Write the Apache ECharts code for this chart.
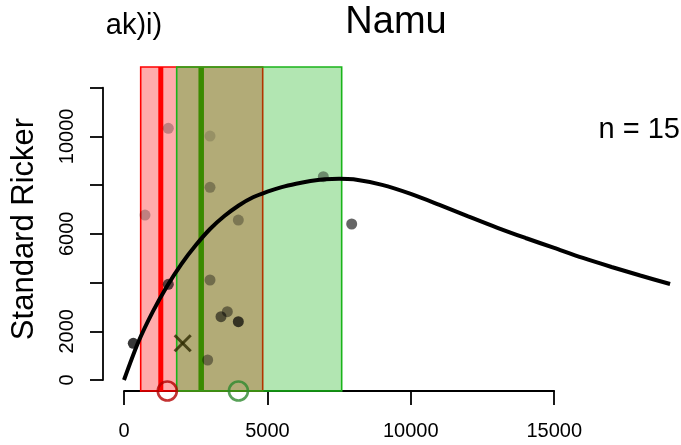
<!DOCTYPE html>
<html>
<head>
<meta charset="utf-8">
<script src="https://cdn.jsdelivr.net/npm/echarts@6/dist/echarts.min.js"></script>
<style>
  html, body { margin: 0; padding: 0; background: #ffffff; }
  #chart { width: 681px; height: 445px; }
</style>
</head>
<body>
<div id="chart"></div>
<script>
// ---- data ----------------------------------------------------------------
// observed stock (x) and recruitment (y)
const obsX = [324, 732, 1545, 1545, 2999, 2999, 3986, 2999, 3603, 3382, 3986, 2917, 6950, 7939];
const obsY = [1507, 6773, 10333, 3928, 10016, 7910, 6568, 4105, 2805, 2600, 2395, 821, 8346, 6404];

// fitted standard Ricker curve
const curveX = [0, 500, 1000, 1500, 2000, 2500, 3000, 3500, 4000, 4500, 5000, 5500, 6000, 6500, 7000,
                7500, 8000, 9000, 10000, 11000, 12000, 13000, 14000, 15000, 16000, 17000, 18000, 19040];
const curveY = [0, 1560, 2800, 3850, 4760, 5530, 6200, 6730, 7165, 7500, 7730, 7920, 8060, 8170, 8240,
                8265, 8240, 8010, 7640, 7190, 6720, 6260, 5830, 5420, 5010, 4640, 4290, 3940];

// reference bands and their central values
const redBand = [582, 4836];
const greenBand = [1837, 7590];
const redLine = 1283;
const greenLine = 2692;
const redCircleX = 1510;
const greenCircleX = 3990;
const crossPoint = [2047, 1507];

// axis ticks
const xTickValues = [0, 5000, 10000, 15000];
const xTickLabels = ['0', '5000', '10000', '15000'];
const yTickValues = [0, 2000, 4000, 6000, 8000, 10000, 12000];
const yTickLabels = ['0', '2000', '', '6000', '', '10000', ''];

const sampleSize = 15;

// ---- styling / layout ----------------------------------------------------
const pointAlpha = [0.78, 0.25, 0.25, 0.65, 0.15, 0.3, 0.3, 0.37, 0.43, 0.55, 0.7, 0.4, 0.4, 0.6];
const FONT = '"Liberation Sans", Arial, Helvetica, sans-serif';

// plot frame in pixels and the data-to-pixel scale of each axis
const frame = { left: 103, right: 676, top: 67, bottom: 391 };
const x0px = 124, pxPerX = 143.4 / 5000;
const y0px = 380, pxPerY = 292.3 / 12000;
const xMin = -(x0px - frame.left) / pxPerX;
const xMax = (frame.right - x0px) / pxPerX;
const yMin = -(frame.bottom - y0px) / pxPerY;
const yMax = (y0px - frame.top) / pxPerY;

const xAxisLen = (xTickValues[xTickValues.length - 1] - xTickValues[0]) * pxPerX;
const yAxisLen = (yTickValues[yTickValues.length - 1] - yTickValues[0]) * pxPerY;

function bandItem(fill, stroke) {
  return function (params, api) {
    const cs = params.coordSys;
    const a = api.coord([api.value(0), 0])[0];
    const b = api.coord([api.value(1), 0])[0];
    return {
      type: 'rect',
      shape: { x: a, y: cs.y, width: b - a, height: cs.height },
      style: { fill: fill, stroke: stroke, lineWidth: 1.6 }
    };
  };
}

function vLineItem(color, width) {
  return function (params, api) {
    const cs = params.coordSys;
    const x = api.coord([api.value(0), 0])[0];
    return {
      type: 'line',
      shape: { x1: x, y1: cs.y, x2: x, y2: cs.y + cs.height },
      style: { stroke: color, lineWidth: width }
    };
  };
}

function crossItem(params, api) {
  const p = api.coord([api.value(0), api.value(1)]);
  const r = 8;
  const style = { stroke: 'rgba(45,42,0,0.8)', lineWidth: 3 };
  return {
    type: 'group',
    children: [
      { type: 'line', shape: { x1: p[0] - r, y1: p[1] - r, x2: p[0] + r, y2: p[1] + r }, style: style },
      { type: 'line', shape: { x1: p[0] - r, y1: p[1] + r, x2: p[0] + r, y2: p[1] - r }, style: style }
    ]
  };
}

const chart = echarts.init(document.getElementById('chart'), null, { renderer: 'canvas' });

const option = {
  backgroundColor: '#ffffff',
  animation: false,
  textStyle: { fontFamily: FONT },
  grid: [
    { left: frame.left, top: frame.top, width: frame.right - frame.left, height: frame.bottom - frame.top,
      containLabel: false, outerBoundsMode: 'none' },
    { left: x0px, top: frame.bottom - 1, width: xAxisLen, height: 1, containLabel: false, outerBoundsMode: 'none' },
    { left: frame.left, top: y0px - yAxisLen, width: 1, height: yAxisLen, containLabel: false, outerBoundsMode: 'none' }
  ],
  xAxis: [
    { type: 'value', gridIndex: 0, min: xMin, max: xMax, show: false },
    {
      type: 'value', gridIndex: 1, min: xTickValues[0], max: xTickValues[xTickValues.length - 1],
      interval: xTickValues[1] - xTickValues[0], position: 'bottom',
      axisLine: { show: true, lineStyle: { color: '#000', width: 1.8 } },
      axisTick: { show: true, length: 14, lineStyle: { color: '#000', width: 1.8 } },
      splitLine: { show: false },
      axisLabel: {
        color: '#000', fontSize: 20, fontFamily: FONT, margin: 30,
        formatter: function (v) { const i = xTickValues.indexOf(v); return i >= 0 ? xTickLabels[i] : ''; }
      }
    },
    { type: 'value', gridIndex: 2, show: false }
  ],
  yAxis: [
    { type: 'value', gridIndex: 0, min: yMin, max: yMax, show: false },
    { type: 'value', gridIndex: 1, show: false },
    {
      type: 'value', gridIndex: 2, min: yTickValues[0], max: yTickValues[yTickValues.length - 1],
      interval: yTickValues[1] - yTickValues[0], position: 'left',
      axisLine: { show: true, lineStyle: { color: '#000', width: 1.8 } },
      axisTick: { show: true, length: 13, lineStyle: { color: '#000', width: 1.8 } },
      splitLine: { show: false },
      axisLabel: {
        color: '#000', fontSize: 20, fontFamily: FONT, margin: 26, rotate: 90,
        showMinLabel: true, showMaxLabel: true,
        formatter: function (v) { const i = yTickValues.indexOf(v); return i >= 0 ? yTickLabels[i] : ''; }
      }
    }
  ],
  series: [
    { type: 'custom', xAxisIndex: 0, yAxisIndex: 0, renderItem: vLineItem('#ff0000', 5), data: [[redLine, 0]], z: 1, silent: true },
    { type: 'custom', xAxisIndex: 0, yAxisIndex: 0, renderItem: vLineItem('#00b800', 5.5), data: [[greenLine, 0]], z: 1, silent: true },
    { type: 'custom', xAxisIndex: 0, yAxisIndex: 0, renderItem: bandItem('rgba(255,0,0,0.33)', '#ff0000'), data: [redBand], z: 2, silent: true },
    { type: 'custom', xAxisIndex: 0, yAxisIndex: 0, renderItem: bandItem('rgba(0,171,0,0.30)', '#1ab41a'), data: [greenBand], z: 3, silent: true },
    {
      type: 'scatter', xAxisIndex: 0, yAxisIndex: 0, symbolSize: 11, z: 4, silent: true,
      data: obsX.map(function (x, i) {
        return { value: [x, obsY[i]], itemStyle: { color: '#000000', opacity: pointAlpha[i] } };
      })
    },
    {
      type: 'line', xAxisIndex: 0, yAxisIndex: 0, smooth: 0.3, showSymbol: false, clip: false, z: 5, silent: true,
      lineStyle: { color: '#000', width: 4 },
      data: curveX.map(function (x, i) { return [x, curveY[i]]; })
    },
    { type: 'custom', xAxisIndex: 0, yAxisIndex: 0, renderItem: crossItem, data: [crossPoint], z: 6, silent: true, clip: false },
    {
      type: 'scatter', xAxisIndex: 0, yAxisIndex: 0, symbol: 'circle', symbolSize: 19, z: 7, silent: true, clip: false,
      data: [
        { value: [redCircleX, yMin], itemStyle: { color: 'rgba(0,0,0,0)', borderColor: '#b40000', borderWidth: 2.6 } },
        { value: [greenCircleX, yMin], itemStyle: { color: 'rgba(0,0,0,0)', borderColor: '#2e892e', borderWidth: 2.6 } }
      ]
    }
  ],
  graphic: [
    { type: 'text', x: 396, y: 23, silent: true,
      style: { text: 'Namu', font: '38px ' + FONT, fill: '#000', align: 'center', verticalAlign: 'middle' } },
    { type: 'text', x: 134, y: 26, silent: true,
      style: { text: 'ak)i)', font: '29px ' + FONT, fill: '#000', align: 'center', verticalAlign: 'middle' } },
    { type: 'text', x: 680, y: 130, silent: true,
      style: { text: 'n = ' + sampleSize, font: '29px ' + FONT, fill: '#000', align: 'right', verticalAlign: 'middle' } },
    { type: 'text', x: 24, y: 229, rotation: Math.PI / 2, silent: true,
      style: { text: 'Standard Ricker', font: '31px ' + FONT, fill: '#000', align: 'center', verticalAlign: 'middle' } }
  ]
};

chart.setOption(option);
</script>
</body>
</html>
